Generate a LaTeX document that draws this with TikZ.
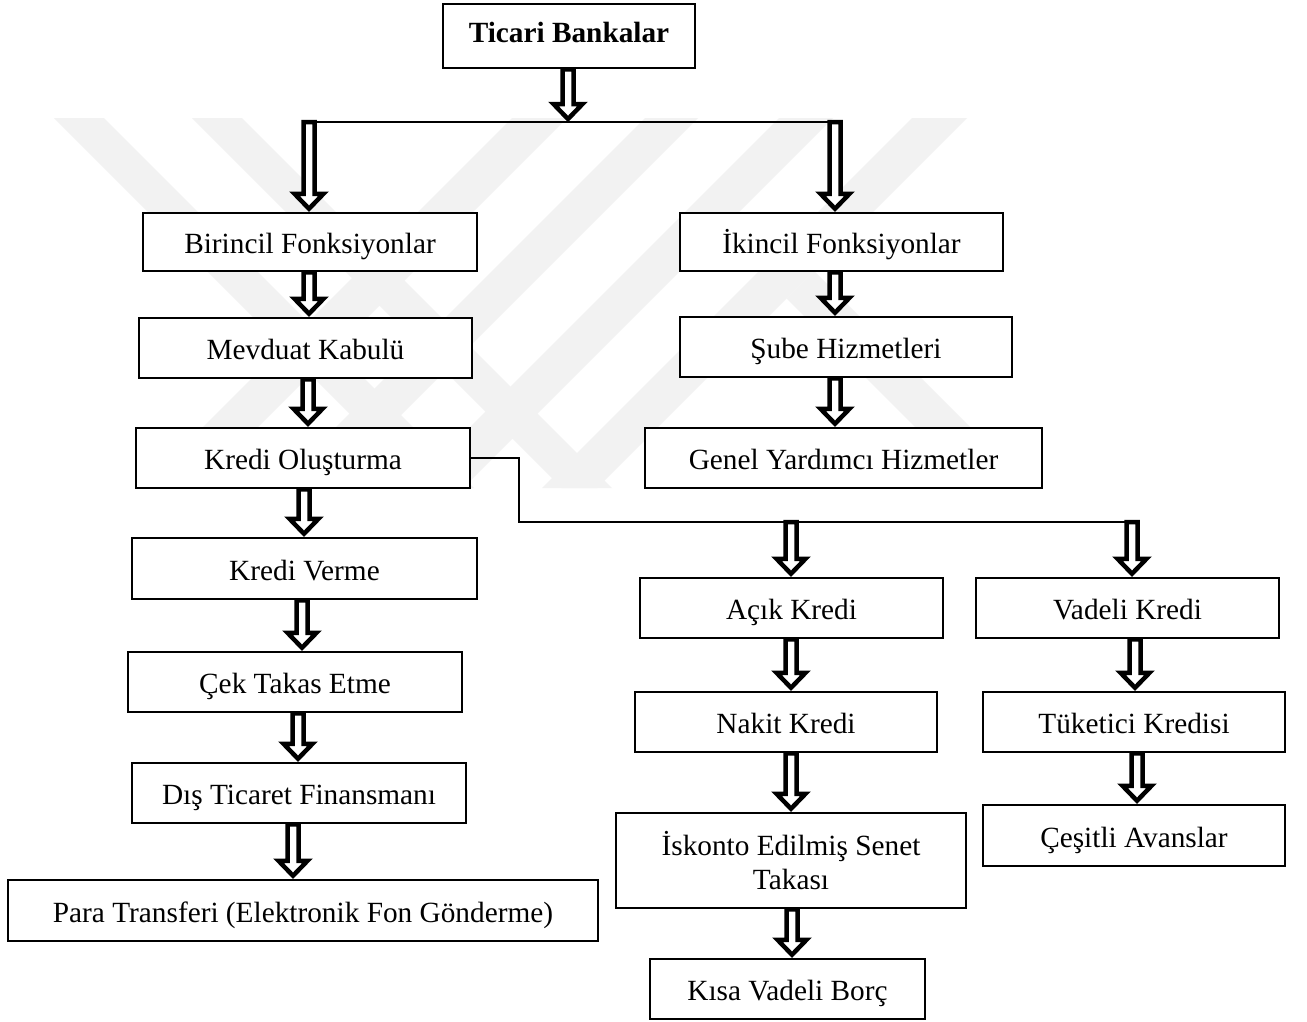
\documentclass[tikz,border=0pt]{standalone}
\usepackage{fontspec}
\setmainfont{Liberation Serif}
\usetikzlibrary{calc}
\newcommand\harrow[3]{%
  \draw[harr] ($(#2 -| #1)+(-5.5,0)$) -- ($(#2 -| #1)+(5.5,0)$)
    -- ($(#3 -| #1)+(5.5,-18)$) -- ($(#3 -| #1)+(14.5,-18)$)
    -- ($(#3 -| #1)+(0,-3)$) -- ($(#3 -| #1)+(-14.5,-18)$)
    -- ($(#3 -| #1)+(-5.5,-18)$) -- cycle;}
\begin{document}
\begin{tikzpicture}[x=1pt,y=-1pt,
  boxbase/.style={draw, line width=2.5pt, fill=white, inner sep=0pt, align=center,
    font=\fontsize{29.3}{34}\selectfont},
  box/.style={boxbase, text height=23pt, text depth=0pt},
  topbox/.style={boxbase, text height=20pt, text depth=7pt},
  conn/.style={line width=2.5pt},
  harr/.style={draw, line width=4.5pt, fill=white, line join=miter, miter limit=10},
  wm/.style={fill=black!5}]
\useasboundingbox[fill=white] (0,0) rectangle (1307,1021);
% watermark
\fill[wm] (54,118) -- (104,118) -- (474,488) -- (424,488) -- cycle;
\fill[wm] (192,118) -- (242,118) -- (612,488) -- (562,488) -- cycle;
\fill[wm] (512,118) -- (567,118) -- (197,488) -- (142,488) -- cycle;
\fill[wm] (645,118) -- (698,118) -- (328,488) -- (275,488) -- cycle;
\fill[wm] (779,118) -- (833,118) -- (463,488) -- (409,488) -- cycle;
\fill[wm] (912,118) -- (967,118) -- (597,488) -- (542,488) -- cycle;
\fill[wm] (786.5,298.5) -- (814,271) -- (1031,488) -- (976,488) -- cycle;
% boxes
\node[topbox, minimum width=252, minimum height=64] (ticari) at (569,36) {\textbf{Ticari Bankalar}};
\node[box, minimum width=334, minimum height=58] (bir) at (310,242) {Birincil Fonksiyonlar};
\node[box, minimum width=323, minimum height=58] (iki) at (841.5,242) {İkincil Fonksiyonlar};
\node[box, minimum width=333, minimum height=60] (mev) at (305.5,348) {Mevduat Kabulü};
\node[box, minimum width=332, minimum height=60] (sube) at (846,347) {Şube Hizmetleri};
\node[box, minimum width=334, minimum height=60] (kol) at (303,458) {Kredi Oluşturma};
\node[box, minimum width=397, minimum height=60] (genel) at (843.5,458) {Genel Yardımcı Hizmetler};
\node[box, minimum width=345, minimum height=61] (kver) at (304.5,568.5) {Kredi Verme};
\node[box, minimum width=334, minimum height=60] (cek) at (295,682) {Çek Takas Etme};
\node[box, minimum width=334, minimum height=60] (dis) at (299,793) {Dış Ticaret Finansmanı};
\node[box, minimum width=590, minimum height=61] (para) at (303,910.5) {Para Transferi (Elektronik Fon Gönderme)};
\node[box, minimum width=303, minimum height=60] (acik) at (791.5,608) {Açık Kredi};
\node[box, minimum width=303, minimum height=60] (vad) at (1127.5,608) {Vadeli Kredi};
\node[box, minimum width=302, minimum height=60] (nakit) at (786,722) {Nakit Kredi};
\node[box, minimum width=302, minimum height=60] (tuk) at (1134,722) {Tüketici Kredisi};
\node[boxbase, minimum width=350, minimum height=95] (isk) at (791,860.5) {İskonto Edilmiş Senet\\Takası};
\node[box, minimum width=302, minimum height=61] (cesit) at (1134,835.5) {Çeşitli Avanslar};
\node[box, minimum width=275, minimum height=60] (kisa) at (787.5,989) {Kısa Vadeli Borç};
% junction coordinates
\coordinate (jt) at (568,122);
\coordinate (jl) at (309,122);
\coordinate (jr) at (835,122);
\coordinate (kc) at (519,522);
\coordinate (ka) at (791,522);
\coordinate (kb) at (1132,522);
% arrow columns
\coordinate (c568) at (568,0);
\coordinate (c309) at (309,0);
\coordinate (c835) at (835,0);
\coordinate (c308) at (308,0);
\coordinate (c304) at (304,0);
\coordinate (c302) at (302,0);
\coordinate (c298) at (298,0);
\coordinate (c293) at (293,0);
\coordinate (c791) at (791,0);
\coordinate (c792) at (792,0);
\coordinate (c1132) at (1132,0);
\coordinate (c1135) at (1135,0);
\coordinate (c1137) at (1137,0);
% lines
\draw[conn] (jl) -- (jr);
\draw[conn] (kol.east) -| (kc) -- (kb);
% arrows
\harrow{c568}{ticari.south}{jt}
\harrow{c309}{jl}{bir.north}
\harrow{c835}{jr}{iki.north}
\harrow{c309}{bir.south}{mev.north}
\harrow{c835}{iki.south}{sube.north}
\harrow{c308}{mev.south}{kol.north}
\harrow{c835}{sube.south}{genel.north}
\harrow{c304}{kol.south}{kver.north}
\harrow{c302}{kver.south}{cek.north}
\harrow{c298}{cek.south}{dis.north}
\harrow{c293}{dis.south}{para.north}
\harrow{c791}{ka}{acik.north}
\harrow{c1132}{kb}{vad.north}
\harrow{c791}{acik.south}{nakit.north}
\harrow{c1135}{vad.south}{tuk.north}
\harrow{c791}{nakit.south}{isk.north}
\harrow{c1137}{tuk.south}{cesit.north}
\harrow{c792}{isk.south}{kisa.north}
\end{tikzpicture}
\end{document}
